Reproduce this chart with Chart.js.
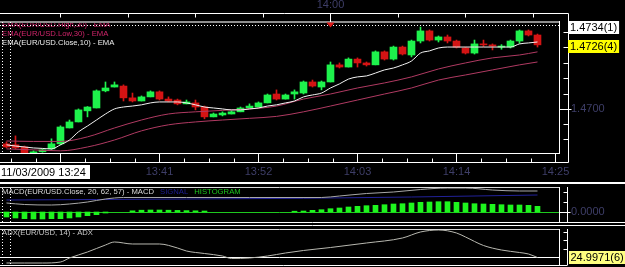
<!DOCTYPE html>
<html><head><meta charset="utf-8">
<script src="https://cdn.jsdelivr.net/npm/chart.js@4.4.1/dist/chart.umd.min.js"></script>
<style>
html,body{margin:0;padding:0;background:#000;overflow:hidden;}
#wrap{position:relative;width:625px;height:267px;background:#000;}
canvas{position:absolute;left:0;}
</style></head><body>
<div id="wrap">
<canvas id="cMain" width="625" height="182" style="top:0px"></canvas>
<canvas id="cMacd" width="625" height="42" style="top:182px"></canvas>
<canvas id="cAdx" width="625" height="43" style="top:224px"></canvas>
</div>
<script>
// ---------------- DATA (1-minute EUR/USD candles from 13:24) ----------------
const dateLabel = '11/03/2009 13:24';
const open  = [1.46855,1.46851,1.46842,1.46817,1.46822,1.46834,1.46855,1.46921,1.46946,1.46992,
               1.47004,1.47075,1.47091,1.47095,1.47046,1.47033,1.47050,1.47071,1.47041,1.47037,
               1.47021,1.47025,1.47008,1.46967,1.46975,1.46979,1.46988,1.47004,1.47008,1.47025,
               1.47062,1.47041,1.47062,1.47066,1.47112,1.47091,1.47112,1.47183,1.47174,1.47207,
               1.47191,1.47183,1.47237,1.47207,1.47257,1.47224,1.47282,1.47324,1.47286,1.47299,
               1.47282,1.47253,1.47232,1.47270,1.47266,1.47257,1.47257,1.47282,1.47324,1.47307];
const high  = [1.46863,1.46888,1.46846,1.46826,1.46834,1.46876,1.46930,1.46954,1.47000,1.47010,
               1.47079,1.47112,1.47112,1.47100,1.47066,1.47054,1.47075,1.47075,1.47050,1.47041,
               1.47037,1.47037,1.47012,1.46983,1.46988,1.46992,1.47008,1.47021,1.47029,1.47062,
               1.47079,1.47062,1.47079,1.47116,1.47120,1.47116,1.47195,1.47191,1.47212,1.47212,
               1.47195,1.47241,1.47241,1.47261,1.47261,1.47286,1.47340,1.47328,1.47303,1.47307,
               1.47286,1.47257,1.47286,1.47286,1.47270,1.47267,1.47286,1.47328,1.47328,1.47311];
const low   = [1.46838,1.46834,1.46815,1.46815,1.46820,1.46832,1.46851,1.46921,1.46946,1.46967,
               1.47004,1.47071,1.47091,1.47033,1.47029,1.47033,1.47050,1.47037,1.47029,1.47017,
               1.47021,1.46996,1.46959,1.46967,1.46971,1.46979,1.46988,1.47004,1.47008,1.47025,
               1.47037,1.47041,1.47041,1.47062,1.47091,1.47079,1.47112,1.47170,1.47174,1.47174,
               1.47178,1.47183,1.47203,1.47203,1.47224,1.47216,1.47274,1.47282,1.47278,1.47274,
               1.47253,1.47228,1.47228,1.47259,1.47245,1.47248,1.47253,1.47273,1.47303,1.47257];
const close = [1.46842,1.46838,1.46817,1.46822,1.46830,1.46855,1.46925,1.46946,1.46996,1.47008,
               1.47075,1.47087,1.47100,1.47046,1.47033,1.47050,1.47071,1.47041,1.47033,1.47021,
               1.47029,1.47008,1.46967,1.46979,1.46983,1.46988,1.47004,1.47012,1.47025,1.47058,
               1.47041,1.47058,1.47071,1.47112,1.47095,1.47112,1.47183,1.47174,1.47207,1.47191,
               1.47183,1.47237,1.47207,1.47257,1.47228,1.47282,1.47324,1.47286,1.47299,1.47282,
               1.47257,1.47232,1.47270,1.47266,1.47261,1.47259,1.47282,1.47324,1.47307,1.47266];
const emaClose10 = [1.46851,1.46846,1.46842,1.46838,1.46836,1.46834,1.46851,1.46871,1.46905,1.46929,
               1.46954,1.46979,1.47000,1.47008,1.47012,1.47017,1.47025,1.47029,1.47029,1.47029,
               1.47025,1.47017,1.47008,1.47004,1.47000,1.46996,1.46996,1.47000,1.47004,1.47012,
               1.47017,1.47025,1.47033,1.47050,1.47058,1.47066,1.47087,1.47104,1.47124,1.47133,
               1.47137,1.47149,1.47162,1.47170,1.47183,1.47199,1.47232,1.47241,1.47253,1.47257,
               1.47257,1.47257,1.47257,1.47257,1.47257,1.47257,1.47257,1.47270,1.47274,1.47278];
const ema30Minutes = [0,3,6,9,12,15,18,21,24,27,30,33,36,39,42,45,48,51,54,57,59];
const emaHigh30 = [1.46867,1.46865,1.46865,1.46884,1.46921,1.46954,1.46979,1.46988,1.46994,1.47000,1.47012,
                   1.47041,1.47062,1.47087,1.47108,1.47133,1.47166,1.47191,1.47212,1.47224,1.47237];
const emaLow30  = [1.46834,1.46830,1.46826,1.46842,1.46871,1.46909,1.46934,1.46946,1.46954,1.46961,1.46969,
                   1.46988,1.47012,1.47037,1.47062,1.47087,1.47120,1.47141,1.47162,1.47183,1.47195];
const xTickMinutes = [17,28,39,50,61];
const xTickLabels  = ['13:41','13:52','14:03','14:14','14:25'];
const topTickMinutes = [36];
const topTickLabels  = ['14:00'];
const yLabelTicks = [1.4700];
const yMinorTicks = [1.46876,1.46938,1.47000,1.47064,1.47128,1.47192,1.47256,1.47320];
const tagValues = [1.4734, 1.4726];
const tagTexts  = ['1.4734(1)', '1.4726(4)'];

const macdTitle = 'MACD(EUR/USD.Close, 20, 62, 57) - MACD';
const histogram = [-0.000050,-0.000060,-0.000067,-0.000070,-0.000070,-0.000067,-0.000067,-0.000060,-0.000050,-0.000037,
                   -0.000027,-0.000010,null,null,0.000012,0.000018,0.000020,0.000020,0.000018,0.000016,
                   0.000014,0.000012,0.000010,null,null,null,null,null,null,null,
                   null,null,0.000008,0.000010,0.000017,0.000023,0.000033,0.000040,0.000050,0.000057,
                   0.000063,0.000067,0.000073,0.000080,0.000083,0.000090,0.000097,0.000100,0.000103,0.000103,
                   0.000097,0.000090,0.000083,0.000080,0.000077,0.000073,0.000070,0.000070,0.000067,0.000057];
const macdMinutes = [0,2,5,7,9,11,13,20,27,35,37,40,43,46,49,51,54,57,59];
const macdLine    = [0.000090,0.000075,0.000070,0.000080,0.000100,0.000130,0.000145,0.000145,0.000145,0.000145,
                     0.000160,0.000185,0.000200,0.000225,0.000240,0.000240,0.000220,0.000210,0.000210];
const signalMinutes = [0,10,20,33,45,59];
const signalLine    = [0.000120,0.000125,0.000130,0.000137,0.000150,0.000170];
const macdLabelTicks = [0];
const macdMinorTicks = [0.0001,0.0002];

const adxTitle = 'ADX(EUR/USD, 14) - ADX';
const adxMinutes = [0,2,4,6,7,9,11,12,14,17,19,20,22,24,25,27,29,31,33,36,40,44,46,48,50,51,53,55,57,58,59];
const adxValues  = [21.76,21.76,21.76,22.35,24.71,28.24,32.35,34.12,32.94,32.94,30.59,28.82,27.35,25.88,24.41,
                    24.71,25.88,27.65,29.12,30.88,33.53,36.47,40.00,41.18,39.41,37.06,32.06,29.41,27.94,27.06,24.9971];
const adxLevel = 25;
const adxMinorTicks = [30,35,40];
const adxTagText = '24.9971(6)';

// ---------------- CHARTS ----------------
Chart.defaults.font.family = '"Liberation Sans", Arial, sans-serif';
const X_MIN = -0.72, X_MAX = 61.39;
const GREEN = '#1ef24c', RED = '#d41414', MAROON = '#b03a62', WHITE = '#ffffff', AXTXT = '#3e3e68';
const candleColors = open.map((o, i) => close[i] >= o ? GREEN : RED);
const common = { responsive:false, animation:false, devicePixelRatio:1, events:[],
  plugins:{ legend:{display:false}, tooltip:{enabled:false} } };
function xAxis(extra){ return Object.assign({type:'linear', min:X_MIN, max:X_MAX, offset:false,
  grid:{display:false, drawTicks:false}, border:{display:false}}, extra); }
function seg(ctx, x1, y1, x2, y2, color, dash){
  ctx.save(); ctx.strokeStyle = color; ctx.lineWidth = 1; if (dash) ctx.setLineDash(dash);
  ctx.beginPath(); ctx.moveTo(x1, y1); ctx.lineTo(x2, y2); ctx.stroke(); ctx.restore();
}
const P = v => Math.round(v) + 0.5;
const lineDs = (label, xs, ys, color, order) => ({type:'line', label, data: xs.map((m, k) => ({x:m, y:ys[k]})),
  borderColor:color, borderWidth:1, pointRadius:0, cubicInterpolationMode:'monotone', order});
const fitRight = s => { s.width = 66; s.paddingTop = 0; s.paddingBottom = 0; };

const mainDecor = { id:'mainDecor', afterDraw(chart){
  const {ctx, chartArea:a} = chart; const xs = chart.scales.x, ys = chart.scales.y;
  const R = a.right, T = a.top, B = a.bottom, AX = R + 9.5, TY = T - 8.5, BY = B + 9.5;
  ctx.save();
  ctx.font = '7.7px "Liberation Sans"'; ctx.textBaseline = 'middle'; ctx.textAlign = 'left';
  const legCols = ['#d0246a', '#d0246a', '#ececec'];
  [0,1,2].forEach(k => { ctx.fillStyle = legCols[k]; ctx.fillText(chart.data.datasets[k].label, 2, T + 2.5 + 9*k); });
  ctx.fillStyle = '#8e8e8e'; ctx.fillRect(0, T - 1, R, 2);
  seg(ctx, 0, T + 3.5, R, T + 3.5, WHITE, [1,2]);
  seg(ctx, R + 0.5, T - 1, R + 0.5, B + 1, WHITE);
  seg(ctx, 0, B + 0.5, R + 1, B + 0.5, WHITE);
  [2.5, 10.5].forEach(X => seg(ctx, X, T, X, B, WHITE, [1,2]));
  seg(ctx, 0, TY, AX, TY, WHITE);
  [6,13.5,21,28.5,43.5,51,58.5].forEach(m => { const X = P(xs.getPixelForValue(m)); seg(ctx, X, TY, X, TY + 4, WHITE); });
  topTickMinutes.forEach(m => {
    const X = P(xs.getPixelForValue(m)); seg(ctx, X, TY, X, T, WHITE);
    ctx.fillStyle = '#e21a1a'; ctx.beginPath(); ctx.moveTo(X - 4, T + 0.5); ctx.lineTo(X + 4, T + 0.5); ctx.lineTo(X, T + 5.5); ctx.closePath(); ctx.fill();
  });
  seg(ctx, AX, TY, AX, BY, WHITE);
  yMinorTicks.forEach(v => { const Y = P(ys.getPixelForValue(v)); if (yLabelTicks.includes(v)) seg(ctx, R, Y, AX + 3, Y, WHITE); else seg(ctx, AX - 5, Y, AX, Y, WHITE); });
  seg(ctx, 0, BY, AX, BY, WHITE);
  const majors = [6].concat(xTickMinutes);
  majors.forEach(m => { const X = P(xs.getPixelForValue(m)); seg(ctx, X, B, X, BY, WHITE);
    [0.25,0.5,0.75].forEach(f => { const mm = m - 11*f; if (mm > X_MIN) { const X2 = P(xs.getPixelForValue(mm)); seg(ctx, X2, BY - 4, X2, BY, WHITE); } });
  });
  ctx.font = '11px "Liberation Sans"';
  tagValues.forEach((v, k) => {
    const Y = ys.getPixelForValue(v); const w = ctx.measureText(tagTexts[k]).width + 4;
    ctx.fillStyle = k === 0 ? '#ffffff' : '#ffff00'; ctx.fillRect(AX - 0.5, Math.round(Y - 6.5), w, 13);
    ctx.fillStyle = '#000'; ctx.fillText(tagTexts[k], AX + 1.5, Y + 0.5);
  });
  ctx.fillStyle = '#ffffff'; ctx.fillRect(0, B + 12, 90, 14);
  ctx.fillStyle = '#000'; ctx.fillText(dateLabel, 1, B + 19.5);
  ctx.restore();
}};

new Chart(document.getElementById('cMain'), {
  type:'bar',
  data:{ datasets:[
    lineDs('EMA(EUR/USD.High,30) - EMA', ema30Minutes, emaHigh30, MAROON, 1),
    lineDs('EMA(EUR/USD.Low,30) - EMA', ema30Minutes, emaLow30, MAROON, 2),
    lineDs('EMA(EUR/USD.Close,10) - EMA', open.map((_, i) => i), emaClose10, '#f2f2f2', 0),
    {label:'wick', data: low.map((l, i) => ({x:i, y:[l, high[i]]})), backgroundColor:candleColors, barThickness:1, grouped:false, order:3},
    {label:'EUR/USD', data: open.map((o, i) => ({x:i, y:[o, close[i]]})), backgroundColor:candleColors, barThickness:7, minBarLength:1, grouped:false, order:4}
  ]},
  options: Object.assign({}, common, {
    layout:{padding:0},
    scales:{
      x: xAxis({position:'bottom', afterBuildTicks: s => { s.ticks = xTickMinutes.map(v => ({value:v})); }, afterFit: s => { s.height = 29; },
        ticks:{autoSkip:false, maxRotation:0, padding:12, color:AXTXT, font:{size:11}, callback:(v, i) => xTickLabels[i]}}),
      xTop: xAxis({position:'top', afterBuildTicks: s => { s.ticks = topTickMinutes.map(v => ({value:v})); }, afterFit: s => { s.height = 22; },
        ticks:{autoSkip:false, maxRotation:0, padding:10, color:AXTXT, font:{size:11}, callback:(v, i) => topTickLabels[i]}}),
      y: {type:'linear', position:'right', min:1.46817, max:1.47361, grid:{display:false, drawTicks:false}, border:{display:false},
        afterBuildTicks: s => { s.ticks = yLabelTicks.map(v => ({value:v})); }, afterFit: fitRight,
        ticks:{padding:12, color:AXTXT, font:{size:11}, callback: v => v.toFixed(4)}}
    }
  }),
  plugins:[mainDecor]
});

const macdDecor = { id:'macdDecor',
  beforeDatasetsDraw(chart){ const {ctx, chartArea:a} = chart; const Y = P(chart.scales.y.getPixelForValue(0)); seg(ctx, 0, Y, a.right, Y, '#1ec81e'); },
  afterDraw(chart){
  const {ctx, chartArea:a} = chart; const ys = chart.scales.y;
  const R = a.right, T = a.top, B = a.bottom, AX = R + 8.5;
  ctx.save();
  ctx.fillStyle = WHITE; ctx.fillRect(0, 0, 625, 2);
  seg(ctx, 0, T + 0.5, R, T + 0.5, '#d6d6d6');
  seg(ctx, R + 0.5, T, R + 0.5, B, WHITE);
  seg(ctx, 0, B + 0.5, 625, B + 0.5, WHITE);
  seg(ctx, AX, T, AX, B, WHITE);
  macdMinorTicks.forEach(v => { const Y = P(ys.getPixelForValue(v)); seg(ctx, AX - 4, Y, AX, Y, WHITE); });
  macdLabelTicks.forEach(v => { const Y = P(ys.getPixelForValue(v)); seg(ctx, R, Y, AX + 3, Y, WHITE); });
  [2.5, 10.5].forEach(X => seg(ctx, X, T + 1, X, B, WHITE, [1,2]));
  ctx.font = '7.7px "Liberation Sans"'; ctx.textBaseline = 'middle'; ctx.textAlign = 'left';
  let x0 = 2;
  [[macdTitle, '#dcdcdc'], [chart.data.datasets[1].label, '#1e1e96'], [chart.data.datasets[2].label, '#1ec81e']].forEach(([t, c]) => {
    ctx.fillStyle = c; ctx.fillText(t, x0, T + 4.5); x0 += ctx.measureText(t).width + 6; });
  ctx.restore();
}};

new Chart(document.getElementById('cMacd'), {
  type:'bar',
  data:{ datasets:[
    lineDs('MACD', macdMinutes, macdLine, '#a8a8a8', 0),
    lineDs('SIGNAL', signalMinutes, signalLine, '#22229a', 1),
    {label:'HISTOGRAM', data: histogram.map((v, i) => ({x:i, y:v})), backgroundColor:'#1ef51e', barThickness:5, order:2}
  ]},
  options: Object.assign({}, common, {
    layout:{padding:{top:5, bottom:2, left:0, right:0}},
    scales:{
      x: xAxis({display:false}),
      y: {type:'linear', position:'right', min:-0.0001, max:0.00025, grid:{display:false, drawTicks:false}, border:{display:false},
        afterBuildTicks: s => { s.ticks = macdLabelTicks.map(v => ({value:v})); }, afterFit: fitRight,
        ticks:{padding:12, color:AXTXT, font:{size:11}, callback: v => v.toFixed(4)}}
    }
  }),
  plugins:[macdDecor]
});

const adxDecor = { id:'adxDecor', afterDraw(chart){
  const {ctx, chartArea:a} = chart; const ys = chart.scales.y;
  const R = a.right, T = a.top, B = a.bottom, AX = R + 8.5;
  ctx.save();
  seg(ctx, 0, 1.5, 625, 1.5, WHITE);
  seg(ctx, 0, T + 0.5, R, T + 0.5, '#d6d6d6');
  seg(ctx, R + 0.5, T, R + 0.5, B, WHITE);
  seg(ctx, 0, B + 0.5, AX, B + 0.5, WHITE);
  seg(ctx, AX, T, AX, B, WHITE);
  adxMinorTicks.forEach(v => { const Y = P(ys.getPixelForValue(v)); seg(ctx, AX - 4, Y, AX, Y, WHITE); });
  [2.5, 10.5].forEach(X => seg(ctx, X, T + 1, X, B, WHITE, [1,2]));
  ctx.font = '7.7px "Liberation Sans"'; ctx.textBaseline = 'middle'; ctx.textAlign = 'left';
  ctx.fillStyle = '#c8c8c8'; ctx.fillText(adxTitle, 2, T + 4);
  ctx.font = '11px "Liberation Sans"';
  const last = adxValues[adxValues.length - 1]; const Y = ys.getPixelForValue(last);
  const w = ctx.measureText(adxTagText).width + 3;
  ctx.fillStyle = '#ffff80'; ctx.fillRect(AX + 1.5, Math.round(Y - 6.5), w, 13);
  ctx.fillStyle = '#000'; ctx.fillText(adxTagText, AX + 3, Y + 0.5);
  ctx.restore();
}};

new Chart(document.getElementById('cAdx'), {
  type:'line',
  data:{ datasets:[
    lineDs('ADX', adxMinutes, adxValues, '#b8b8b0', 0),
    {type:'line', label:'level', data:[{x:X_MIN, y:adxLevel}, {x:X_MAX, y:adxLevel}], borderColor:WHITE, borderWidth:1, pointRadius:0, order:1}
  ]},
  options: Object.assign({}, common, {
    layout:{padding:{top:5, bottom:2, left:0, right:66}},
    scales:{ x: xAxis({display:false}), y:{type:'linear', display:false, min:20.59, max:41.76} }
  }),
  plugins:[adxDecor]
});
</script>
</body></html>
